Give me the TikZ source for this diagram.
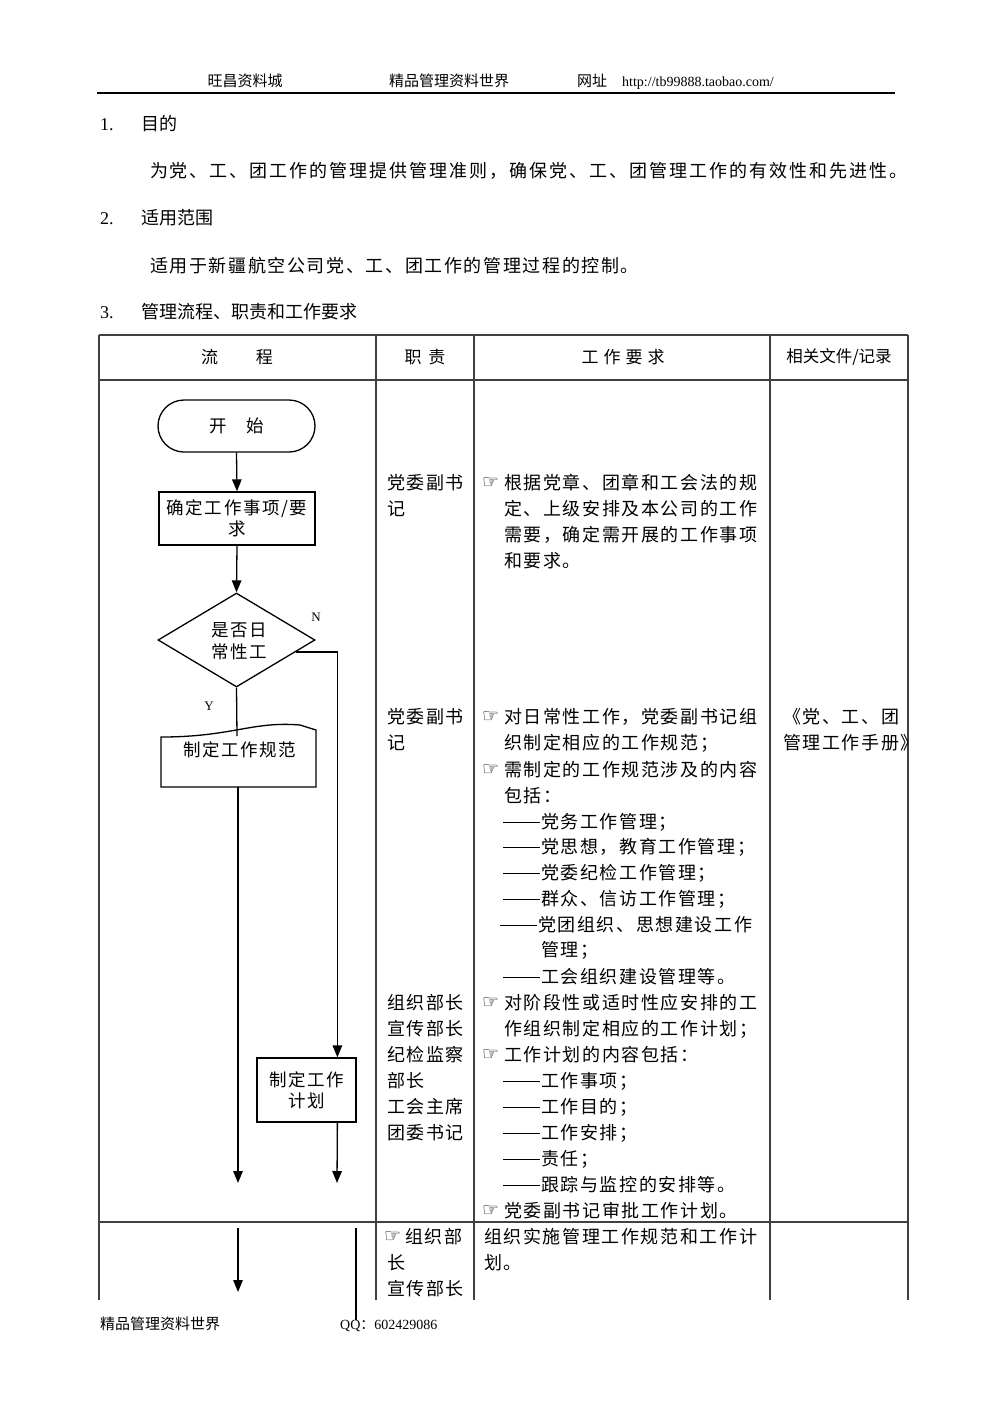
\documentclass[tikz,border=0pt]{standalone}
\usepackage{fontspec}
\setmainfont{Liberation Serif}
\newfontfamily\cjk[LetterSpace=9]{Noto Sans CJK SC}
\newfontfamily\cjkp[LetterSpace=11]{Noto Sans CJK SC}
\newfontfamily\cjkn{Noto Sans CJK SC}
\newfontfamily\symf{DejaVu Sans}
\usetikzlibrary{arrows.meta,shapes.geometric,calc}
\newcommand{\zhx}{\cjk\fontsize{18}{21}\selectfont}
\newcommand{\zdash}{\rule[5.8pt]{37pt}{0.8pt}\hspace{1pt}}
\newcommand{\tline}[3]{\node[txt] at (#1,#2+6.5) {#3};}
\newcommand{\hnd}[2]{\node[hand] at (#1,#2+5.5) {☞};}
\tikzset{
  txt/.style={anchor=base west, inner sep=0pt, outer sep=0pt, font=\zhx},
  hand/.style={anchor=base west, inner sep=0pt, font=\symf\fontsize{19}{20}\selectfont},
  tbl/.style={draw=black!75, line width=1.1pt},
  fl/.style={draw=black, line width=1.3pt},
  arr/.style={fl, -{Triangle[width=9.5pt,length=12pt]}},
  box/.style={fl, rectangle, inner sep=0pt, align=center, font=\cjk\fontsize{17.5}{21}\selectfont},
  lbl/.style={inner sep=0pt, font=\fontsize{13}{14}\selectfont}
}
\begin{document}
\begin{tikzpicture}[x=1pt,y=-1pt]
\fill[white] (0,0) rectangle (992,1403);
\useasboundingbox (0,0) rectangle (992,1403);

% page header
\node[anchor=base, inner sep=0, font=\cjkn\fontsize{15}{16}\selectfont] (h1) at (245,86) {旺昌资料城};
\node[anchor=base, inner sep=0, font=\cjkn\fontsize{15}{16}\selectfont] (h2) at (449,86) {精品管理资料世界};
\node[anchor=base west, inner sep=0, font=\cjkn\fontsize{15}{16}\selectfont] (h3) at (577,86) {网址};
\node[anchor=base west, inner sep=0, font=\fontsize{14}{16}\selectfont] (h4) at (622,86) {http://tb99888.taobao.com/};
\draw[line width=1.5pt] (97,93) -- (895,93);

% sections
\node[anchor=base west, inner sep=0, font=\fontsize{18}{18}\selectfont] (s1) at (100,130) {1.};
\node[anchor=base west, inner sep=0, font=\cjkn\fontsize{18}{18}\selectfont] (s1t) at (141,130) {目的};
\node[txt, font=\cjkp\fontsize{18}{21}\selectfont] (p1) at (150,177) {为党、工、团工作的管理提供管理准则，确保党、工、团管理工作的有效性和先进性。};
\node[anchor=base west, inner sep=0, font=\fontsize{18}{18}\selectfont] (s2) at (100,224) {2.};
\node[anchor=base west, inner sep=0, font=\cjkn\fontsize{18}{18}\selectfont] (s2t) at (141,224) {适用范围};
\node[txt, font=\cjk\fontsize{18}{21}\selectfont] (p2) at (150,272) {适用于新疆航空公司党、工、团工作的管理过程的控制。};
\node[anchor=base west, inner sep=0, font=\fontsize{18}{18}\selectfont] (s3) at (100,318) {3.};
\node[anchor=base west, inner sep=0, font=\cjkn\fontsize{18}{18}\selectfont] (s3t) at (141,318) {管理流程、职责和工作要求};

% table
\draw[tbl] (99,335) -- (908,335);
\draw[tbl] (99,380) -- (908,380);
\draw[tbl] (99,1222) -- (908,1222);
\foreach \xx in {99,376,474,770,908} \draw[tbl] (\xx,335) -- (\xx,1300);
\node[font=\cjkn\fontsize{17}{18}\selectfont, inner sep=0] (th1) at (237,357) {流\hspace{38pt}程};
\node[font=\cjkn\fontsize{17}{18}\selectfont, inner sep=0] (th2) at (425,357) {职\hspace{7pt}责};
\node[font=\cjkn\fontsize{17}{18}\selectfont, inner sep=0] (th3) at (623,357) {工\hspace{5pt}作\hspace{5pt}要\hspace{5pt}求};
\node[font=\cjkn\fontsize{16.5}{18}\selectfont, inner sep=0] (th4) at (839,357) {相关文件/记录};

% flowchart
\node[fl, rectangle, rounded corners=26pt, minimum width=157pt, minimum height=52pt, inner sep=0, font=\cjk\fontsize{17.5}{21}\selectfont] (start) at (236.5,426) {开\hspace{20pt}始};
\node[box, minimum width=156pt, minimum height=53pt] (b1) at (237,518.5) {确定工作事项/要\\求};
\node[fl, diamond, minimum width=157pt, minimum height=94pt, inner sep=0pt] (d) at (236.5,640) {};
\node[align=center, inner sep=0, font=\cjk\fontsize{17.5}{22}\selectfont] (dt) at (239,641) {是否日\\常性工};
\draw[fl] (161,787) -- (161,737) .. controls (232,737) and (252,721) .. (300,725) -- (316,730) -- (316,787) -- cycle;
\node[inner sep=0, font=\cjk\fontsize{17.5}{21}\selectfont] (doc) at (240,750) {制定工作规范};
\node[box, minimum width=99pt, minimum height=64pt] (plan) at (306.5,1090) {制定工作\\计划};
\node[lbl] (N) at (316,617) {N};
\node[lbl] (Y) at (209,706) {Y};

\draw[arr] (start.south) -- (b1.north);
\draw[arr] (b1.south) -- (d.north);
\coordinate (ytop) at (237,736);
\draw[fl] (d.south) -- (ytop);
\coordinate (nstart) at ($(d.east)!0.25!(d.south)$);
\coordinate (planin) at ($(plan.north west)!0.808!(plan.north east)$);
\draw[arr] (nstart) -| (planin);
\coordinate (docout) at (238,787);
\coordinate (e1) at (238,1183);
\draw[arr] (docout) -- (e1);
\coordinate (planout) at ($(plan.south west)!0.808!(plan.south east)$);
\coordinate (e2) at (337,1183);
\draw[arr] (planout) -- (e2);
\coordinate (c1) at (238,1228);
\coordinate (c2) at (238,1292);
\draw[arr] (c1) -- (c2);
\coordinate (c3) at (356,1228);
\coordinate (c4) at (356,1320);
\draw[fl] (c3) -- (c4);

% block 1
\tline{387}{483}{党委副书}
\tline{387}{509}{记}
\hnd{482}{483}
\tline{504}{483}{根据党章、团章和工会法的规}
\tline{504}{509}{定、上级安排及本公司的工作}
\tline{504}{535}{需要，确定需开展的工作事项}
\tline{504}{561}{和要求。}

% block 2
\tline{387}{717}{党委副书}
\tline{387}{743}{记}
\hnd{482}{717}
\tline{504}{717}{对日常性工作，党委副书记组}
\tline{504}{743}{织制定相应的工作规范；}
\hnd{482}{770}
\tline{504}{770}{需制定的工作规范涉及的内容}
\tline{504}{796}{包括：}
\tline{503}{822}{\zdash 党务工作管理；}
\tline{503}{847}{\zdash 党思想，教育工作管理；}
\tline{503}{873}{\zdash 党委纪检工作管理；}
\tline{503}{899}{\zdash 群众、信访工作管理；}
\tline{500}{925}{\zdash 党团组织、思想建设工作}
\tline{541}{950}{管理；}
\tline{503}{977}{\zdash 工会组织建设管理等。}
\tline{783}{717}{《党、工、团}
\tline{783}{743}{管理工作手册》}

% block 3
\tline{387}{1003}{组织部长}
\tline{387}{1029}{宣传部长}
\tline{387}{1055}{纪检监察}
\tline{387}{1081}{部长}
\tline{387}{1107}{工会主席}
\tline{387}{1133}{团委书记}
\hnd{482}{1003}
\tline{504}{1003}{对阶段性或适时性应安排的工}
\tline{504}{1029}{作组织制定相应的工作计划；}
\hnd{482}{1055}
\tline{504}{1055}{工作计划的内容包括：}
\tline{503}{1081}{\zdash 工作事项；}
\tline{503}{1107}{\zdash 工作目的；}
\tline{503}{1133}{\zdash 工作安排；}
\tline{503}{1159}{\zdash 责任；}
\tline{503}{1185}{\zdash 跟踪与监控的安排等。}
\hnd{482}{1211}
\tline{504}{1211}{党委副书记审批工作计划。}

% last row
\hnd{384}{1237}
\tline{405}{1237}{组织部}
\tline{387}{1263}{长}
\tline{387}{1289}{宣传部长}
\tline{484}{1237}{组织实施管理工作规范和工作计}
\tline{484}{1263}{划。}

% footer
\node[anchor=base west, inner sep=0, font=\cjkn\fontsize{15}{16}\selectfont] (f1) at (100,1329) {精品管理资料世界};
\node[anchor=base west, inner sep=0, font=\fontsize{14}{16}\selectfont] (f2) at (340,1329) {QQ{\cjkn ：}602429086};
\end{tikzpicture}
\end{document}
